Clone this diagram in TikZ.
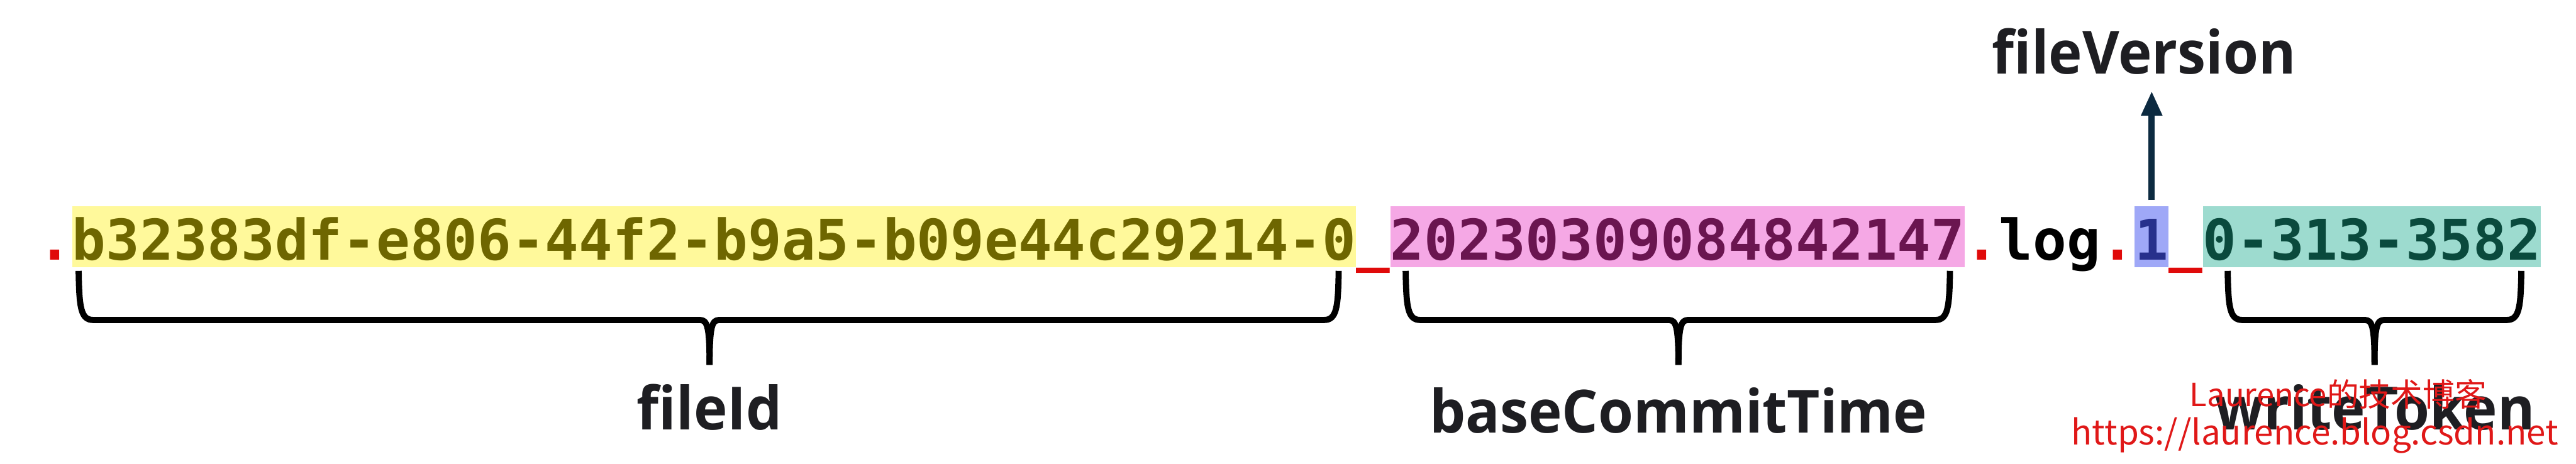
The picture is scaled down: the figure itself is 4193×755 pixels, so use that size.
\documentclass[tikz,border=0pt]{standalone}
\usepackage{fontspec}
\setmainfont{Open Sans}
\newfontfamily\monofont{DejaVu Sans Mono}
\newfontfamily\cjkfont{Noto Sans CJK SC}
\usetikzlibrary{arrows.meta}
\definecolor{ybg}{HTML}{FFF99B}
\definecolor{yfg}{HTML}{6E6600}
\definecolor{pbg}{HTML}{F5A8E5}
\definecolor{pfg}{HTML}{6A1550}
\definecolor{bbg}{HTML}{9FA8F7}
\definecolor{bfg}{HTML}{27308C}
\definecolor{tbg}{HTML}{9DDBCF}
\definecolor{tfg}{HTML}{0A4A3D}
\definecolor{sepred}{HTML}{E00A0A}
\definecolor{navy}{HTML}{0C2A40}
\definecolor{lblc}{HTML}{1E1E22}
\definecolor{wmred}{HTML}{E01818}
\newcommand\mybrace[3]{% left x, right x, centre x
  \draw[brc] (#1,441) .. controls (#1+1,500) and (#1+3,521) .. (#1+24,521)
     -- (#3-16,521) .. controls (#3-4,521) and (#3,530) .. (#3,594);
  \draw[brc] (#2,441) .. controls (#2-1,500) and (#2-3,521) .. (#2-24,521)
     -- (#3+16,521) .. controls (#3+4,521) and (#3,530) .. (#3,594);
}
\begin{document}
\begin{tikzpicture}[x=1pt,y=-1pt,
  seg/.style={anchor=base west, inner sep=0pt,
    font=\monofont\bfseries\fontsize{91.35}{100}\selectfont,
    text height=87pt, text depth=12pt},
  lbl/.style={anchor=base, inner sep=0pt, text=lblc, xscale=0.955,
    font=\bfseries\fontsize{97}{110}\selectfont},
  wm/.style={anchor=center, inner sep=0pt, text=wmred,
    font=\cjkfont\fontsize{52}{60}\selectfont},
  brc/.style={line width=10pt, line cap=butt, line join=round, black}]
\useasboundingbox (0,0) rectangle (4193,755);
% file name
\node[seg, text=sepred] (d1) at (62,423) {.};
\node[seg, fill=ybg, text=yfg] (fid) at (d1.base east) {b32383df-e806-44f2-b9a5-b09e44c29214-0};
\node[seg, text=sepred] (u1) at (fid.base east) {\_};
\node[seg, fill=pbg, text=pfg] (bct) at (u1.base east) {20230309084842147};
\node[seg, text=sepred] (d2) at (bct.base east) {.};
\node[seg, text=black] (lg) at (d2.base east) {log};
\node[seg, text=sepred] (d3) at (lg.base east) {.};
\node[seg, fill=bbg, text=bfg] (ver) at (d3.base east) {1};
\node[seg, text=sepred] (u2) at (ver.base east) {\_};
\node[seg, fill=tbg, text=tfg] (wt) at (u2.base east) {0-313-3582};
% braces
\mybrace{128}{2179}{1155}
\mybrace{2288}{3174}{2732}
\mybrace{3626}{4104}{3865}
% labels
\node[lbl] (lfid) at (1155,700) {fileId};
\node[lbl] (lbct) at (2732,705) {baseCommitTime};
\node[lbl] (lwt) at (3866,700) {writeToken};
\node[lbl] (fv) at (3490,120) {fileVersion};
% arrow
\draw[navy, line width=10pt, -{Triangle[length=40pt,width=32pt]}, shorten >=27pt]
  ([yshift=10pt]ver.north) -- (ver.north |- fv.south);
% watermark
\node[wm] (wm1) at (3806,642) {Laurence的技术博客};
\node[wm, font=\cjkfont\fontsize{56}{64}\selectfont] (wm2) at (3768,709) {https://laurence.blog.csdn.net};
\end{tikzpicture}
\end{document}
